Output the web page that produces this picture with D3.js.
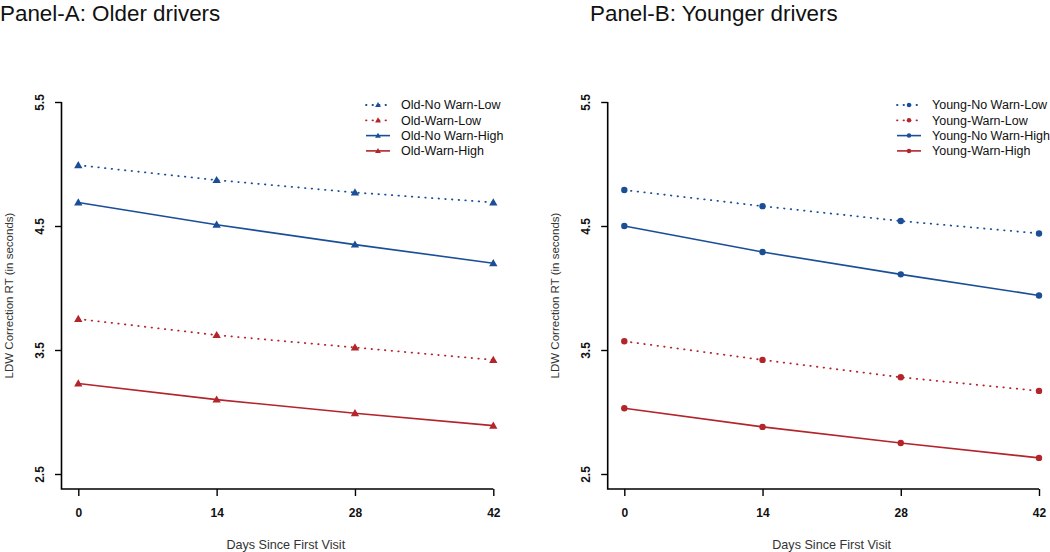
<!DOCTYPE html>
<html>
<head>
<meta charset="utf-8">
<script src="https://cdn.jsdelivr.net/npm/d3@7"></script>
<style>
  body { margin: 0; background: #fff; }
  svg { display: block; font-family: "Liberation Sans", Arial, sans-serif; }
</style>
</head>
<body>
<div id="chart"></div>
<script>
// days on the x axis
const days = [0, 14, 28, 42];
const yTicks = [2.5, 3.5, 4.5, 5.5];

// Panel A: older drivers (triangles)
const oldNoWarnLow = [4.99, 4.87, 4.77, 4.69];
const oldWarnLow = [3.75, 3.62, 3.52, 3.42];
const oldNoWarnHigh = [4.69, 4.51, 4.35, 4.20];
const oldWarnHigh = [3.23, 3.10, 2.99, 2.89];

// Panel B: younger drivers (dots)
const youngNoWarnLow = [4.79, 4.66, 4.54, 4.44];
const youngWarnLow = [3.57, 3.42, 3.28, 3.17];
const youngNoWarnHigh = [4.50, 4.29, 4.11, 3.94];
const youngWarnHigh = [3.03, 2.88, 2.75, 2.63];

const BLUE = "#1a4f98";
const RED = "#b3242b";

const W = 1050, H = 552;
const svg = d3.select("#chart").append("svg")
  .attr("width", W).attr("height", H)
  .attr("viewBox", `0 0 ${W} ${H}`);

const panels = [
  {
    title: "Panel-A: Older drivers", titleX: 0,
    axisX: 61.5, x0: 78.3, x1: 493.3, legX: 366,
    marker: "tri",
    series: [
      { name: "Old-No Warn-Low", vals: oldNoWarnLow, color: BLUE, dotted: true },
      { name: "Old-Warn-Low", vals: oldWarnLow, color: RED, dotted: true },
      { name: "Old-No Warn-High", vals: oldNoWarnHigh, color: BLUE, dotted: false },
      { name: "Old-Warn-High", vals: oldWarnHigh, color: RED, dotted: false }
    ]
  },
  {
    title: "Panel-B: Younger drivers", titleX: 590,
    axisX: 607.7, x0: 624.3, x1: 1039, legX: 897,
    marker: "dot",
    series: [
      { name: "Young-No Warn-Low", vals: youngNoWarnLow, color: BLUE, dotted: true },
      { name: "Young-Warn-Low", vals: youngWarnLow, color: RED, dotted: true },
      { name: "Young-No Warn-High", vals: youngNoWarnHigh, color: BLUE, dotted: false },
      { name: "Young-Warn-High", vals: youngWarnHigh, color: RED, dotted: false }
    ]
  }
];

const yTop = 102, yBot = 474, boxBot = 489;
const y = d3.scaleLinear().domain([2.5, 5.5]).range([yBot, yTop]);

function drawMarker(g, type, cx, cy, color, s) {
  if (type === "tri") {
    g.append("path")
      .attr("d", d3.symbol(d3.symbolTriangle, 30 * s * s)())
      .attr("transform", `translate(${cx},${cy + 0.6 * s})`)
      .attr("fill", color);
  } else {
    g.append("circle").attr("cx", cx).attr("cy", cy).attr("r", 3.2 * s).attr("fill", color);
  }
}

panels.forEach(p => {
  const g = svg.append("g");
  const x = d3.scaleLinear().domain([0, 42]).range([p.x0, p.x1]);

  svg.append("text")
    .attr("x", p.titleX).attr("y", 21)
    .attr("font-size", 22.4)
    .attr("fill", "#111")
    .text(p.title);

  // L-shaped frame
  g.append("path")
    .attr("d", `M${p.axisX},${yTop}V${boxBot}H${x(42)}`)
    .attr("fill", "none").attr("stroke", "#000").attr("stroke-width", 1.6);

  // y axis
  const ya = g.append("g")
    .attr("transform", `translate(${p.axisX},0)`)
    .call(d3.axisLeft(y).tickValues(yTicks).tickSize(6.5).tickFormat(d3.format(".1f")));
  ya.select(".domain").remove();
  ya.selectAll(".tick line").attr("stroke", "#000").attr("stroke-width", 1.4);
  ya.selectAll(".tick text")
    .attr("transform", "rotate(-90)")
    .attr("x", 0).attr("y", -22).attr("dy", "0.35em")
    .attr("text-anchor", "middle")
    .attr("font-size", 12).attr("font-weight", "bold")
    .attr("font-family", "Liberation Sans, Arial, sans-serif")
    .attr("fill", "#111");

  // x axis
  const xa = g.append("g")
    .attr("transform", `translate(0,${boxBot})`)
    .call(d3.axisBottom(x).tickValues(days).tickSize(7).tickPadding(12));
  xa.select(".domain").remove();
  xa.selectAll(".tick line").attr("stroke", "#000").attr("stroke-width", 1.4);
  xa.selectAll(".tick text")
    .attr("font-size", 12).attr("font-weight", "bold")
    .attr("font-family", "Liberation Sans, Arial, sans-serif")
    .attr("fill", "#111");

  g.append("text")
    .attr("x", (p.x0 + p.x1) / 2).attr("y", 549)
    .attr("text-anchor", "middle")
    .attr("font-size", 12.6).attr("fill", "#333")
    .text("Days Since First Visit");

  g.append("text")
    .attr("transform", `translate(${p.axisX - 53},${(yTop + boxBot) / 2}) rotate(-90)`)
    .attr("text-anchor", "middle")
    .attr("dy", "0.35em")
    .attr("font-size", 11.5).attr("fill", "#333")
    .text("LDW Correction RT (in seconds)");

  const line = d3.line().x((d, i) => x(days[i])).y(d => y(d));

  p.series.forEach(s => {
    g.append("path")
      .attr("d", line(s.vals))
      .attr("fill", "none")
      .attr("stroke", s.color)
      .attr("stroke-width", s.dotted ? 1.8 : 1.6)
      .attr("stroke-linecap", s.dotted ? "round" : "butt")
      .attr("stroke-dasharray", s.dotted ? "0.5,6.2" : null);
    s.vals.forEach((v, i) => drawMarker(g, p.marker, x(days[i]), y(v), s.color, 1));
  });

  // legend
  const leg = g.append("g");
  p.series.forEach((s, i) => {
    const ly = 105 + i * 15.3;
    leg.append("line")
      .attr("x1", p.legX).attr("x2", p.legX + 24)
      .attr("y1", ly).attr("y2", ly)
      .attr("stroke", s.color)
      .attr("stroke-width", s.dotted ? 1.8 : 1.6)
      .attr("stroke-linecap", s.dotted ? "round" : "butt")
      .attr("stroke-dasharray", s.dotted ? "0.5,6" : null);
    drawMarker(leg, p.marker, p.legX + 12, ly, s.color, 0.7);
    leg.append("text")
      .attr("x", p.legX + 35).attr("y", ly)
      .attr("dy", "0.35em")
      .attr("font-size", 12.5).attr("fill", "#111")
      .text(s.name);
  });
});
</script>
</body>
</html>
